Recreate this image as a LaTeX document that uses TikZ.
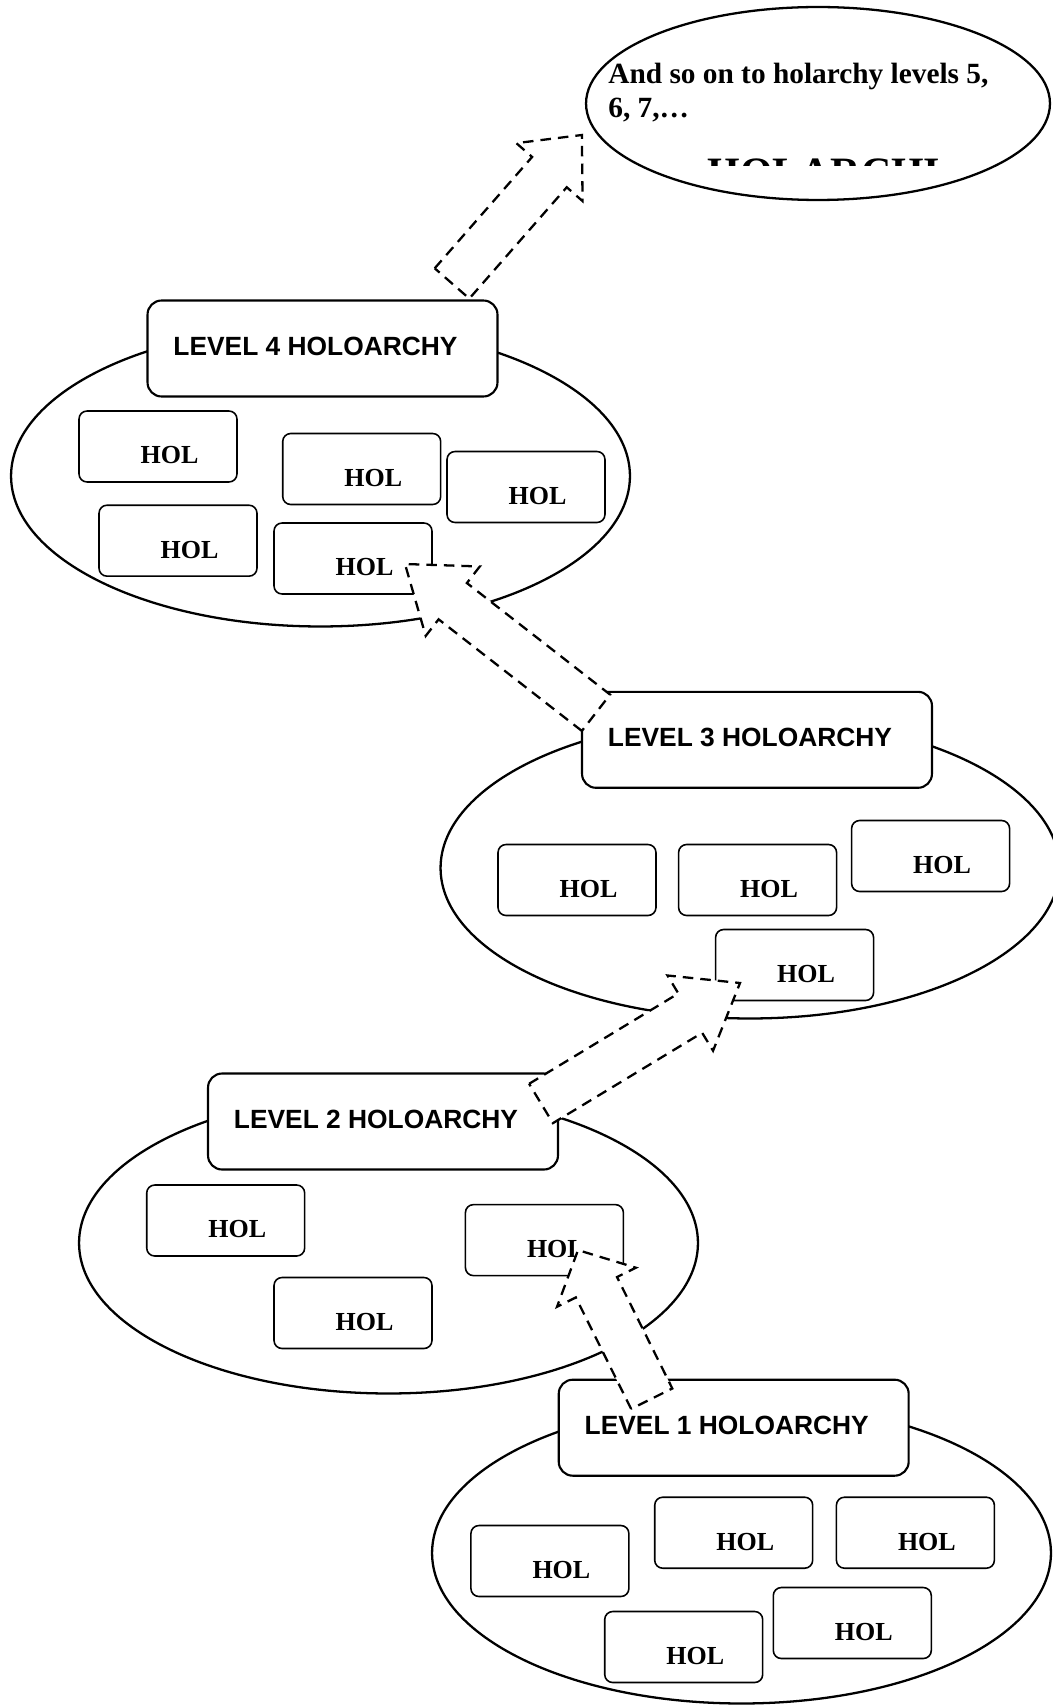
\documentclass[tikz,border=0pt]{standalone}
\usepackage{fontspec}
\setmainfont{Liberation Serif}
\newfontfamily\levelfont{Liberation Sans}
\usetikzlibrary{calc,shapes.geometric}

\newcommand{\blockarrow}[2]{%
  \coordinate (#1#2) at ($(#1)!0.75!(#2)$);
  \draw[blockarr] ($(#1)!0.46cm!90:(#2)$) -- ($(#1#2)!0.46cm!90:(#2)$)
    -- ($(#1#2)!0.88cm!90:(#2)$) -- (#2) -- ($(#1#2)!0.88cm!-90:(#2)$)
    -- ($(#1#2)!0.46cm!-90:(#2)$) -- ($(#1)!0.46cm!-90:(#2)$) -- cycle;
}

\begin{document}
\begin{tikzpicture}[x=0.02cm,y=-0.02cm,
  blob/.style={draw,ellipse,line width=1.3pt,minimum width=12.38cm,minimum height=6.02cm,inner sep=0pt},
  levelbox/.style={draw,fill=white,rounded corners=0.28cm,line width=1.2pt,minimum width=7cm,minimum height=1.92cm,inner sep=0pt},
  leveltext/.style={font=\levelfont\bfseries\fontsize{15}{18}\selectfont,xshift=-0.14cm,yshift=0.04cm,inner sep=0pt},
  hol/.style={draw,fill=white,rounded corners=0.16cm,line width=0.9pt,minimum width=3.16cm,minimum height=1.42cm,inner sep=0pt,label={[holtext]center:HOL}},
  holtext/.style={font=\fontsize{14.8}{17}\selectfont\bfseries,xshift=0.23cm,yshift=-0.18cm,inner sep=0pt},
  blockarr/.style={draw,fill=white,line width=1.3pt,dash pattern=on 6pt off 4pt}]
  \useasboundingbox (0,0) rectangle (1053,1706);

  \node[blob] (lev4e) at (320.5,476) {};
  \node[levelbox,label={[leveltext]center:LEVEL 4 HOLOARCHY}] (lev4) at (322.5,348.5) {};
  \foreach \n/\x/\y in {1/158/446.5, 2/361.7/469, 3/526/487, 4/178/540.7, 5/353/558.5}
    \node[hol] (l4h\n) at (\x,\y) {};

  \node[blob] (lev3e) at (750,868) {};
  \node[levelbox,label={[leveltext]center:LEVEL 3 HOLOARCHY}] (lev3) at (757,739.8) {};
  \foreach \n/\x/\y in {1/577/880, 2/757.6/880, 3/930.6/856, 4/794.6/965}
    \node[hol] (l3h\n) at (\x,\y) {};

  \node[blob] (lev2e) at (388.5,1243) {};
  \node[levelbox,label={[leveltext]center:LEVEL 2 HOLOARCHY}] (lev2) at (383,1121.5) {};
  \foreach \n/\x/\y in {1/225.7/1220.5, 2/544.4/1240.1, 3/353/1313}
    \node[hol] (l2h\n) at (\x,\y) {};

  \node[blob] (lev1e) at (741.5,1553) {};
  \node[levelbox,label={[leveltext]center:LEVEL 1 HOLOARCHY}] (lev1) at (733.7,1427.7) {};
  \foreach \n/\x/\y in {1/549.9/1561, 2/733.7/1532.7, 3/915.4/1532.7, 4/852.3/1623, 5/683.7/1647}
    \node[hol] (l1h\n) at (\x,\y) {};

  \node[draw,ellipse,line width=1.3pt,minimum width=9.28cm,minimum height=3.86cm,inner sep=0pt] (more) at (818,103.5) {};
  \node[anchor=north west,align=left,inner sep=0pt,font=\fontsize{16.7}{19.3}\selectfont\bfseries] (moretxt) at (608,63)
    {And so on to holarchy levels 5,\\6, 7,…};
  \begin{scope}
    \clip (560,0) rectangle (1053,166);
    \node[anchor=base,inner sep=0pt,font=\fontsize{23.8}{28}\selectfont\bfseries] (morecut) at (824,187) {HOLARCHI};
  \end{scope}

  \coordinate (from4) at ($(lev4.north)+(129.5,-16)$);
  \coordinate (to5) at ($(more.west)+(-3,31.5)$);
  \coordinate (from3) at ($(lev3.north west)+(15,22)$);
  \coordinate (to4) at ($(l4h5.center)+(52,5.5)$);
  \coordinate (from2) at ($(lev2.north east)+(-18,31)$);
  \coordinate (to3) at ($(l3h4.center)+(-54.6,18)$);
  \coordinate (from1) at ($(lev1.north)+(-82,20)$);
  \coordinate (to2) at ($(l2h2.center)+(33.6,10)$);
  \blockarrow{from4}{to5}
  \blockarrow{from3}{to4}
  \blockarrow{from2}{to3}
  \blockarrow{from1}{to2}
\end{tikzpicture}
\end{document}
